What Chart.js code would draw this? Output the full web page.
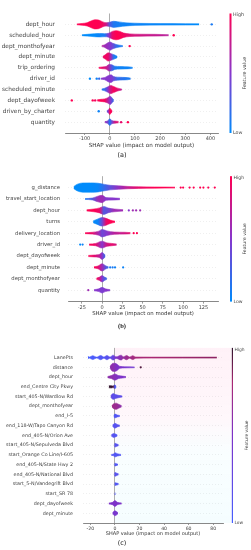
<!DOCTYPE html>
<html>
<head>
<meta charset="utf-8">
<script src="https://cdn.jsdelivr.net/npm/chart.js@4.4.0/dist/chart.umd.min.js"></script>
<style>
	body { margin: 0; background: #fff; width: 251px; height: 550px; overflow: hidden; position: relative; }
	canvas { position: absolute; left: 0; }
</style>
</head>
<body>
<canvas id="chartA" width="251" height="165" style="top:0px"></canvas>
<canvas id="chartB" width="251" height="170" style="top:165px"></canvas>
<canvas id="chartC" width="251" height="215" style="top:335px"></canvas>
<script>
// each swarm row: [shap value, half thickness (density, in rows), feature value 0..1]
// outliers: [row, shap value, feature value]

// ---- (a)
const featuresA = ['dept_hour', 'scheduled_hour', 'dept_monthofyear', 'dept_minute', 'trip_ordering',
	'driver_id', 'scheduled_minute', 'dept_dayofweek', 'driven_by_charter', 'quantity'];
const swarmA = [
	[[-131,0.04,1],[-110,0.08,1],[-90,0.15,1],[-75,0.3,1],[-60,0.42,1],[-45,0.4,1],[-30,0.25,0.95],[-15,0.15,0.8],[0,0.2,0.3],[15,0.28,0.12],[30,0.25,0.08],[50,0.18,0.05],[80,0.12,0.05],[120,0.09,0.04],[200,0.07,0.03],[300,0.06,0.02],[355,0.05,0]],
	[[-111,0.04,0],[-90,0.08,0],[-60,0.14,0],[-40,0.16,0.05],[-20,0.14,0.1],[-5,0.18,0.5],[10,0.35,0.9],[25,0.42,1],[40,0.35,1],[55,0.2,0.95],[80,0.12,0.85],[120,0.09,0.8],[180,0.08,0.75],[234,0.05,0.7]],
	[[-32,0.05,0.7],[-20,0.12,0.6],[-8,0.3,0.55],[2,0.38,0.5],[12,0.25,0.4],[25,0.15,0.2],[40,0.08,0.1],[52,0.04,0.1]],
	[[-28,0.05,0.9],[-18,0.2,0.95],[-6,0.38,0.9],[5,0.3,0.6],[15,0.22,0.15],[25,0.12,0.05],[30,0.05,0.05]],
	[[-44,0.04,1],[-30,0.08,0.9],[-15,0.12,0.8],[-3,0.3,0.6],[8,0.28,0.3],[20,0.15,0.1],[40,0.12,0.05],[60,0.1,0.05],[80,0.08,0.05],[91,0.04,0.05]],
	[[-35,0.05,0.5],[-20,0.1,0.5],[-5,0.3,0.5],[5,0.35,0.5],[15,0.2,0.4],[30,0.14,0.2],[50,0.12,0.15],[70,0.1,0.1],[83,0.05,0.1]],
	[[-32,0.05,0.1],[-20,0.12,0.2],[-8,0.25,0.5],[3,0.38,0.8],[15,0.28,0.95],[28,0.15,0.9],[40,0.08,0.8],[48,0.04,0.7]],
	[[-50,0.05,1],[-35,0.1,1],[-20,0.14,0.95],[-8,0.25,0.7],[2,0.38,0.5],[10,0.2,0.3],[16,0.05,0.2]],
	[[-12,0.06,0.3],[-5,0.15,0.6],[0,0.3,1],[5,0.15,1],[10,0.06,0.9]],
	[[-20,0.05,0.6],[-8,0.12,0.4],[0,0.3,0.1],[8,0.15,0.4],[20,0.1,0.8],[35,0.06,0.9]]
];
const outliersA = [[0,405,0.1],[1,254,1],[2,79,1],[5,-79,0],[5,-52,0.05],[5,-42,0.2],[7,-151,1],[7,-68,1],[7,-58,0.95],[8,-44,0.05],[9,72,1],[9,45,0.9]];
const xTicksA = [-100, 0, 100, 200, 300, 400];

// ---- (b)
const featuresB = ['g_distance', 'travel_start_location', 'dept_hour', 'turns', 'delivery_location',
	'driver_id', 'dept_dayofweek', 'dept_minute', 'dept_monthofyear', 'quantity'];
const swarmB = [
	[[-35,0.08,0],[-31,0.28,0],[-24,0.4,0],[-14,0.41,0],[-5,0.38,0.03],[3,0.28,0.2],[10,0.2,0.35],[20,0.15,0.55],[32,0.1,0.75],[45,0.07,0.9],[65,0.05,1],[90,0.04,1]],
	[[-21,0.04,0.1],[-12,0.08,0.3],[-5,0.25,0.6],[0,0.32,0.6],[5,0.12,0.5],[12,0.1,0.5],[22,0.06,0.5]],
	[[-19,0.05,1],[-10,0.12,1],[-3,0.22,0.9],[2,0.35,0.3],[8,0.2,0.4],[15,0.12,0.6],[26,0.06,0.6]],
	[[-11,0.08,0],[-5,0.25,0.05],[0,0.38,0.4],[5,0.3,0.9],[10,0.15,1],[16,0.05,1]],
	[[-21,0.04,1],[-12,0.08,0.9],[-4,0.18,0.6],[0,0.33,0.4],[6,0.2,0.5],[15,0.1,0.7],[28,0.08,0.8],[35,0.05,0.9]],
	[[-16,0.05,1],[-8,0.1,0.9],[0,0.3,0.5],[6,0.15,0.8],[12,0.1,0.9],[18,0.05,0.8]],
	[[-17,0.05,1],[-10,0.08,0.9],[-3,0.15,0.7],[0,0.3,0.5],[4,0.08,0.2]],
	[[-10,0.05,1],[-5,0.12,0.9],[0,0.32,0.6],[5,0.12,0.3],[8,0.05,0.2]],
	[[-7,0.05,1],[-3,0.15,0.8],[0,0.28,0.5],[3,0.15,0.3],[6,0.05,0.2]],
	[[-10,0.05,0.5],[-4,0.12,0.5],[0,0.25,0.45],[4,0.12,0.5],[10,0.05,0.5]]
];
const outliersB = [[0,97,1],[0,100,1],[0,108,1],[0,113,1],[0,121,1],[0,125,1],[0,131,1],[0,139,1],
	[2,33,0.5],[2,38,0.6],[2,42,0.6],[2,47,0.6],[4,39,1],[4,43,1],[5,-27,0],[5,-24,0.05],
	[7,10,0.1],[7,13,0.1],[7,16,0.05],[7,26,0.05],[9,-17,0.6]];
const xTicksB = [-25, 0, 25, 50, 75, 100, 125];

// ---- (c)
const featuresC = ['LanePts', 'distance', 'dept_hour', 'end_Centre City Pkwy', 'start_405-N/Wardlow Rd',
	'dept_monthofyear', 'end_I-5', 'end_118-W/Tapo Canyon Rd', 'end_405-N/Orion Ave', 'start_405-N/Sepulveda Blvd',
	'start_Orange Co Line/I-605', 'end_405-N/State Hwy 2', 'end_405-N/National Blvd', 'start_5-N/Vandegrift Blvd',
	'start_SR 78', 'dept_dayofweek', 'dept_minute'];
const swarmC = [
	[[-22,0.16,0],[-21,0.05,0],[-18,0.2,0.05],[-15,0.05,0.05],[-11.5,0.22,0.1],[-9,0.06,0.12],[-6.5,0.22,0.15],[-4,0.06,0.2],[-1.5,0.25,0.3],[1,0.08,0.5],[5,0.25,0.6],[7,0.08,0.65],[9.5,0.22,0.7],[12,0.06,0.72],[14.5,0.2,0.75],[17,0.06,0.78],[30,0.05,0.8],[55,0.05,0.82],[83,0.05,0.85]],
	[[-4,0.1,0.6],[-2,0.4,0.6],[0,0.42,0.55],[2,0.3,0.5],[4,0.1,0.5],[8,0.06,0.45],[16,0.04,0.4]],
	[[-6,0.06,0.6],[-3,0.15,0.6],[0,0.32,0.55],[3,0.15,0.5],[6,0.1,0.5],[9,0.05,0.5]],
	[[-5,0.1,1],[-3,0.12,1],[-1.5,0.08,0.95],[0,0.2,0.1],[1,0.05,0]],
	[[-3.5,0.06,0.3],[-1.5,0.3,0.2],[0.5,0.2,0.2],[3,0.12,0.2],[6,0.05,0.2]],
	[[-2.5,0.08,0.75],[-1,0.25,0.7],[1,0.32,0.7],[3,0.2,0.65],[5.5,0.06,0.6]],
	[[-1,0.08,0.1],[0,0.2,0.1],[2,0.1,0.1],[4,0.05,0.1]],
	[[-2,0.06,0.15],[0,0.25,0.15],[2,0.12,0.15],[4,0.05,0.15]],
	[[-3,0.06,0.15],[-1,0.2,0.15],[0.5,0.15,0.1],[2,0.05,0.1]],
	[[-0.5,0.05,0.15],[0,0.2,0.15],[1.5,0.12,0.15],[3,0.05,0.15]],
	[[-3,0.05,0.1],[-1,0.1,0.1],[0,0.22,0.1],[2,0.12,0.1],[5,0.05,0.1]],
	[[-0.5,0.05,0.1],[0,0.15,0.1],[1.5,0.08,0.1],[2.5,0.04,0.1]],
	[[-0.5,0.05,0.15],[0,0.2,0.15],[1.5,0.12,0.15],[3,0.05,0.15]],
	[[-0.3,0.05,0.1],[0,0.15,0.1],[1.5,0.1,0.1],[3,0.05,0.1]],
	[[-0.3,0.05,0.1],[0,0.12,0.1],[0.5,0.05,0.1]],
	[[-5,0.05,0.5],[-2,0.12,0.5],[0,0.3,0.5],[2,0.12,0.5],[5.5,0.05,0.5]],
	[[-2,0.06,0.45],[0,0.25,0.45],[2.5,0.06,0.45]]
];
const outliersC = [[1,21,0.95]];
const xTicksC = [-20, 0, 20, 40, 60, 80];

// colour maps (low -> high)
const redBlue = [[0,[0,139,251]],[0.5,[135,55,205]],[1,[255,0,82]]];
const bluePurple = [[0,[70,95,255]],[0.5,[125,50,200]],[0.8,[170,40,115]],[1,[50,20,45]]];

Chart.defaults.font.family = '"DejaVu Sans", sans-serif';

function rgb(c) { return 'rgb(' + c.map(Math.round).join(',') + ')'; }

function colorAt(stops, v) {
	for (let i = 1; i < stops.length; i++) {
		if (v <= stops[i][0]) {
			const a = stops[i-1], b = stops[i];
			const t = (v - a[0]) / (b[0] - a[0]);
			return rgb(a[1].map((x, k) => x + (b[1][k] - x) * t));
		}
	}
	return rgb(stops[stops.length-1][1]);
}

// horizontal gradient following the feature colour along the row
function bandGradient(chart, prof, stops) {
	const area = chart.chartArea;
	if (!area) return colorAt(stops, prof[0][2]);
	const xs = chart.scales.x;
	const g = chart.ctx.createLinearGradient(area.left, 0, area.right, 0);
	prof.forEach(s => {
		let t = (xs.getPixelForValue(s[0]) - area.left) / (area.right - area.left);
		g.addColorStop(Math.min(1, Math.max(0, t)), colorAt(stops, s[2]));
	});
	return g;
}

function makeChart(id, p) {
	const datasets = [];
	p.swarm.forEach((prof, row) => {
		const paint = (ctx) => bandGradient(ctx.chart, prof, p.cmap);
		const common = {type: 'line', borderColor: paint, backgroundColor: paint, borderWidth: 0.6,
			pointRadius: 0, cubicInterpolationMode: 'monotone'};
		datasets.push(Object.assign({}, common, {data: prof.map(s => ({x: s[0], y: row - s[1]})), fill: false}));
		datasets.push(Object.assign({}, common, {data: prof.map(s => ({x: s[0], y: row + s[1]})), fill: '-1'}));
	});
	datasets.push({
		type: 'scatter',
		data: p.dots.map(d => ({x: d[1], y: d[0]})),
		pointRadius: p.dotR,
		pointBorderWidth: 0,
		pointBackgroundColor: p.dots.map(d => colorAt(p.cmap, d[2]))
	});

	// faint tint behind the plot (only in (c))
	const tint = {
		id: 'tint',
		beforeDatasetsDraw(chart) {
			if (!p.tint) return;
			const ctx = chart.ctx, a = chart.chartArea, x0 = chart.scales.x.getPixelForValue(0);
			ctx.save();
			const g = ctx.createLinearGradient(0, a.top, 0, a.bottom);
			g.addColorStop(0, 'rgba(255,60,150,0.07)');
			g.addColorStop(0.4, 'rgba(255,60,150,0.04)');
			g.addColorStop(0.6, 'rgba(60,220,255,0.03)');
			g.addColorStop(1, 'rgba(60,220,255,0.05)');
			ctx.fillStyle = g;
			ctx.fillRect(x0, a.top, a.right + 8 - x0, a.bottom - a.top);
			ctx.restore();
		}
	};

	const colorBar = {
		id: 'colorBar',
		afterDraw(chart) {
			const ctx = chart.ctx, a = chart.chartArea;
			const g = ctx.createLinearGradient(0, a.bottom, 0, a.top);
			p.cmap.forEach(s => g.addColorStop(s[0], rgb(s[1])));
			ctx.save();
			ctx.fillStyle = g;
			ctx.fillRect(p.barX, a.top, p.barW, a.bottom - a.top);
			ctx.fillStyle = '#444';
			ctx.font = p.barFont + 'px "DejaVu Sans"';
			ctx.textBaseline = 'middle';
			ctx.fillText('High', p.barX + p.barW + 1.5, a.top + 1.5);
			ctx.fillText('Low', p.barX + p.barW + 1.5, a.bottom);
			ctx.translate(p.barX + 15, (a.top + a.bottom) / 2);
			ctx.rotate(-Math.PI / 2);
			ctx.textAlign = 'center';
			ctx.fillText('Feature value', 0, 0);
			ctx.restore();
			ctx.save();
			ctx.fillStyle = '#222';
			ctx.font = p.letterFont;
			ctx.textAlign = 'center';
			ctx.textBaseline = 'middle';
			ctx.fillText(p.letter, 122, p.letterY);
			ctx.restore();
		}
	};

	return new Chart(document.getElementById(id), {
		type: 'line',
		data: {datasets: datasets},
		plugins: [tint, colorBar],
		options: {
			responsive: false,
			animation: false,
			events: [],
			layout: {padding: p.pad},
			plugins: {legend: {display: false}, tooltip: {enabled: false}},
			scales: {
				x: {
					type: 'linear', min: p.xMin, max: p.xMax,
					afterBuildTicks: s => { s.ticks = p.xTicks.map(v => ({value: v})); },
					afterFit: s => { s.height = p.xH; },
					grid: {
						color: c => (c.tick && c.tick.value === 0) ? '#999' : 'rgba(0,0,0,0)',
						lineWidth: 0.8, tickLength: 2, tickColor: '#555', tickWidth: 0.6
					},
					border: {display: true, color: '#555', width: 0.7},
					ticks: {font: {size: p.tickSize}, color: '#444', padding: 1, maxRotation: 0, autoSkip: false},
					title: {display: true, text: 'SHAP value (impact on model output)', color: '#333',
						font: {size: p.titleSize}, padding: {top: 0, bottom: 4}}
				},
				y: {
					type: 'linear', reverse: true, min: -1, max: p.features.length,
					afterBuildTicks: s => { s.ticks = p.features.map((f, i) => ({value: i})); },
					afterFit: s => { s.width = p.yW; },
					grid: {color: '#dedede', lineWidth: 0.5, drawTicks: false},
					border: {display: false, dash: [1, 2]},
					ticks: {font: {size: p.labelSize}, color: '#444', padding: p.labelPad, autoSkip: false,
						callback: v => p.features[v]}
				}
			}
		}
	});
}

makeChart('chartA', {
	features: featuresA, swarm: swarmA, dots: outliersA, xTicks: xTicksA, cmap: redBlue,
	xMin: -178, xMax: 430, pad: {top: 3, right: 33, bottom: 12, left: 0}, xH: 20, yW: 65,
	labelSize: 5.8, labelPad: 10, tickSize: 5, titleSize: 5.6, dotR: 1.2,
	barX: 229.5, barW: 2, barFont: 4.8, letter: '(a)', letterY: 155, letterFont: '6.5px "DejaVu Sans"'
});

makeChart('chartB', {
	features: featuresB, swarm: swarmB, dots: outliersB, xTicks: xTicksB, cmap: redBlue,
	xMin: -42, xMax: 143, pad: {top: 9.4, right: 33, bottom: 14.4, left: 0}, xH: 19, yW: 68,
	labelSize: 5.3, labelPad: 8, tickSize: 5, titleSize: 5.4, dotR: 1.1,
	barX: 230, barW: 2, barFont: 4.6, letter: '(b)', letterY: 161, letterFont: 'bold 6.5px "Liberation Serif"'
});

makeChart('chartC', {
	features: featuresC, swarm: swarmC, dots: outliersC, xTicks: xTicksC, cmap: bluePurple,
	xMin: -26, xMax: 88, pad: {top: 9, right: 28, bottom: 9.4, left: 0}, xH: 17.6, yW: 83,
	labelSize: 4.8, labelPad: 10, tickSize: 4.6, titleSize: 5, dotR: 1.1, tint: true,
	barX: 231.8, barW: 1.2, barFont: 4.4, letter: '(c)', letterY: 208, letterFont: '6.5px "DejaVu Sans"'
});
</script>
</body>
</html>
